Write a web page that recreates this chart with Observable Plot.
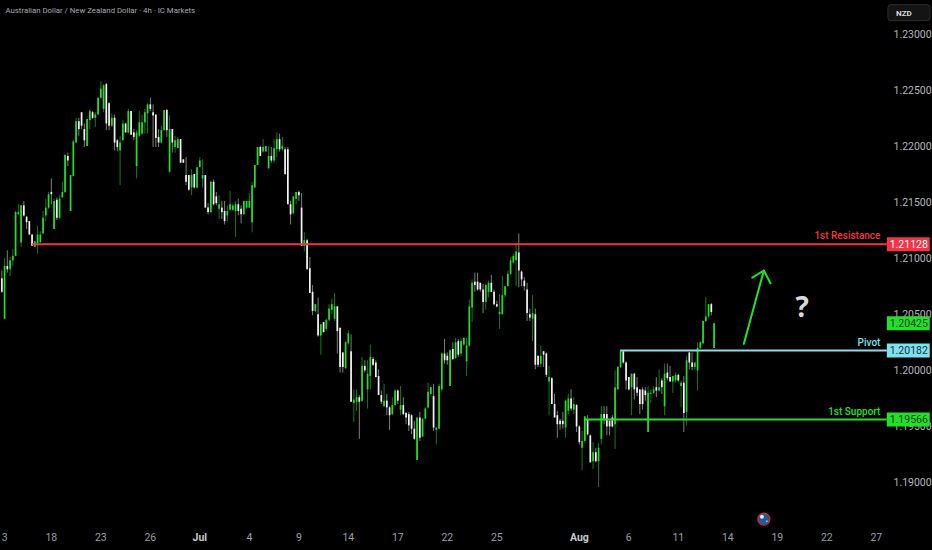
<!DOCTYPE html>
<html><head><meta charset="utf-8">
<script src="https://cdn.jsdelivr.net/npm/d3@7"></script>
<script src="https://cdn.jsdelivr.net/npm/@observablehq/plot@0.6"></script>
<style>html,body{margin:0;padding:0;background:#000;overflow:hidden}svg{display:block}</style>
</head><body><div id="chart"></div>
<script>
// each candle: [up, high, bodyTop, bodyBottom, low], prices in 1/10000
const barsJune = [
[0,12089,12082,12070,12069],[1,12100,12093,12046,12046],[0,12107,12093,12090,12087],[1,12101,12098,12090,12084],
[1,12108,12102,12098,12093],[1,12142,12141,12102,12102],[1,12148,12141,12139,12139],[1,12147,12147,12114,12110],
[0,12151,12147,12138,12137],[0,12137,12137,12132,12126],[0,12133,12133,12121,12121],[0,12121,12121,12111,12111],
[1,12115,12115,12110,12110],[1,12129,12121,12113,12104],[1,12124,12121,12114,12114],[1,12142,12136,12122,12122],
[1,12153,12145,12138,12133],[1,12159,12157,12145,12144],[0,12171,12159,12157,12148],[1,12153,12151,12126,12126],
[0,12154,12152,12136,12134],[1,12156,12153,12136,12135],[1,12168,12159,12154,12154],[1,12192,12192,12159,12158],
[0,12194,12191,12187,12182],[1,12174,12174,12142,12142],[1,12205,12204,12173,12173],[1,12225,12222,12203,12203],
[0,12225,12222,12215,12209],[0,12230,12230,12218,12215],[0,12220,12215,12205,12199],[1,12224,12224,12200,12200],
[1,12233,12231,12223,12215],[0,12231,12230,12225,12224],[1,12230,12228,12225,12217],[1,12243,12243,12228,12228],
[1,12258,12251,12243,12242],[1,12255,12254,12233,12230],[0,12256,12255,12220,12214],[0,12239,12238,12218,12214],
[1,12229,12225,12218,12217],[0,12228,12225,12203,12196],[0,12206,12205,12199,12195],[1,12209,12203,12196,12165],
[1,12223,12220,12205,12205],[0,12220,12220,12212,12212],[1,12233,12231,12212,12211],[0,12231,12231,12210,12210],
[0,12215,12212,12208,12205],[1,12214,12212,12182,12171],[1,12231,12221,12209,12208],[1,12228,12221,12211,12210],
[1,12233,12230,12221,12211],[1,12238,12237,12229,12211],[0,12243,12237,12233,12231],[0,12237,12230,12227,12199],
[0,12228,12228,12207,12199],[0,12215,12208,12203,12199],[1,12218,12214,12203,12202],[1,12232,12232,12214,12214],
[0,12233,12232,12214,12208],[1,12227,12215,12177,12176],[0,12215,12215,12203,12194],[1,12209,12205,12199,12194],
[1,12208,12206,12198,12198],[0,12206,12206,12185,12185],[0,12188,12188,12185,12185],[0,12190,12174,12168,12165],
[0,12174,12174,12161,12160],[1,12179,12174,12163,12156],[0,12175,12175,12163,12162],[1,12181,12181,12163,12162]
];
const barsJulyEarly = [
[1,12190,12187,12181,12181],[1,12188,12174,12171,12163],[0,12174,12174,12145,12145],[0,12149,12145,12141,12139],
[1,12169,12168,12141,12140],[0,12170,12168,12148,12147],[0,12159,12155,12149,12147],[1,12156,12148,12144,12135],
[0,12151,12145,12141,12135],[0,12151,12142,12133,12130],[1,12147,12142,12138,12133],[1,12160,12148,12143,12142],
[1,12148,12147,12143,12142],[1,12151,12148,12142,12119],[0,12153,12148,12142,12138],[0,12147,12144,12139,12131],
[1,12151,12151,12139,12139],[1,12151,12151,12145,12144],[1,12158,12151,12145,12145],[1,12168,12165,12132,12123],
[1,12183,12183,12163,12163],[1,12199,12199,12183,12183],[0,12200,12199,12191,12191],[1,12206,12199,12195,12194],
[1,12200,12200,12195,12195],[1,12200,12191,12180,12180],[0,12199,12191,12187,12185],[1,12206,12198,12187,12185],
[1,12212,12206,12197,12190],[0,12211,12206,12197,12195],[1,12208,12200,12197,12196],[0,12199,12197,12175,12174],
[0,12199,12197,12148,12148],[0,12151,12148,12139,12130],[1,12155,12155,12140,12139],[1,12159,12159,12153,12148],
[0,12160,12159,12156,12151],[0,12158,12145,12111,12111],[1,12123,12116,12111,12106],[0,12117,12116,12090,12090],
[0,12101,12091,12069,12069],[0,12076,12070,12053,12049],[1,12059,12059,12053,12052],[0,12065,12050,12031,12030],
[1,12041,12041,12031,12014],[0,12043,12043,12034,12034],[1,12046,12045,12037,12035],[1,12059,12055,12045,12044],
[1,12064,12059,12054,12050],[1,12069,12057,12046,12044],[0,12057,12057,12035,12015],[0,12038,12038,12003,11998],
[0,12016,12016,12003,11998],[1,12026,12025,12002,12001],[1,12036,12033,12024,12023],[0,12032,12017,11972,11972],
[1,11983,11974,11971,11954],[1,11983,11976,11972,11964],[0,11978,11976,11972,11939],[1,12012,12004,11973,11972],
[0,12009,12004,12000,11998],[1,12009,11997,11983,11966],[1,12023,12012,11995,11983],[0,12012,12010,12005,12004],
[0,12009,12007,11994,11994],[0,12001,11995,11978,11978],[0,11982,11978,11972,11970],[1,11988,11973,11968,11967]
];
const barsJulyLate = [
[0,11979,11973,11967,11960],[0,11968,11967,11960,11947],[1,11976,11969,11961,11960],[1,11983,11982,11969,11969],
[0,11983,11982,11973,11970],[1,11986,11969,11965,11960],[0,11976,11969,11961,11960],[0,11963,11962,11958,11952],
[0,11963,11961,11951,11946],[0,11961,11960,11948,11943],[0,11955,11948,11939,11938],[1,11958,11958,11920,11920],
[0,11963,11958,11940,11937],[1,11957,11957,11941,11941],[1,11967,11966,11957,11957],[1,11989,11981,11967,11966],
[1,11985,11985,11979,11979],[0,11988,11977,11949,11946],[1,11949,11949,11947,11934],[1,11988,11986,11948,11948],
[1,12016,12015,11983,11981],[0,12028,12015,12009,12006],[0,12016,12013,12009,12005],[1,12019,12018,11986,11986],
[0,12025,12019,12010,12009],[1,12029,12025,12011,12010],[0,12028,12026,12014,12012],[1,12029,12026,12015,12013],
[1,12029,12029,12023,12022],[1,12029,12022,12008,11995],[1,12063,12057,12022,12021],[1,12081,12078,12056,12043],
[0,12087,12079,12076,12070],[0,12087,12079,12072,12071],[0,12078,12078,12072,12070],[0,12077,12072,12061,12051],
[1,12077,12076,12061,12054],[1,12080,12078,12070,12065],[0,12085,12078,12070,12070],[0,12072,12070,12059,12058],
[0,12062,12059,12057,12056],[1,12068,12052,12050,12037],[1,12084,12067,12050,12050],[1,12075,12075,12067,12065],
[1,12089,12086,12075,12075],[1,12101,12098,12086,12085],[1,12104,12102,12096,12095],[1,12114,12106,12098,12075],
[0,12122,12105,12089,12074],[0,12089,12088,12081,12075],[0,12083,12080,12075,12071],[0,12078,12072,12051,12044],
[0,12055,12050,12047,12044],[1,12067,12051,12046,12026],[0,12055,12050,12005,12001],[0,12013,12013,12005,12003],
[1,12022,12013,12006,12003],[0,12017,12017,12014,12003],[0,12016,12015,11996,11994],[1,12004,11994,11990,11960],
[0,11994,11993,11970,11970],[0,11979,11970,11958,11958],[0,11964,11960,11952,11940],[0,11957,11955,11952,11947],
[0,11963,11955,11952,11948],[1,11974,11973,11949,11940],[1,11979,11975,11964,11961],[0,11983,11975,11966,11964],
[1,11976,11970,11965,11961],[0,11970,11969,11950,11945]
];
const barsAug = [
[0,11951,11950,11936,11934],[1,11946,11937,11931,11911],[1,11959,11959,11937,11935],[0,11960,11956,11943,11942],
[0,11943,11942,11918,11918],[1,11936,11927,11919,11912],[0,11931,11927,11919,11918],[1,11935,11931,11919,11896],
[1,11968,11961,11939,11934],[0,11968,11961,11957,11952],[0,11968,11961,11950,11942],[0,11957,11955,11950,11942],
[0,11960,11958,11950,11949],[1,12000,11985,11952,11930],[1,12004,12003,11983,11983],[1,12018,12017,12003,12002],
[0,12018,12017,12007,12006],[0,12008,12007,11991,11983],[0,11994,11994,11983,11982],[1,11997,11997,11985,11960],
[0,11998,11997,11983,11974],[0,11994,11985,11980,11977],[0,11983,11983,11970,11961],[0,11985,11983,11970,11965],
[0,11985,11982,11978,11973],[1,11986,11980,11945,11945],[1,11983,11980,11979,11971],[1,11986,11983,11980,11979],
[0,11994,11985,11982,11976],[1,12001,11985,11982,11981],[0,11993,11991,11985,11979],[1,12006,11997,11968,11960],
[0,12006,11998,11993,11991],[0,12004,11994,11990,11990],[1,11995,11995,11990,11980],[1,11998,11996,11991,11989],
[0,11997,11996,11991,11990],[1,11991,11989,11986,11967],[0,11995,11989,11962,11945],[1,12013,12009,11963,11951],
[0,12016,12016,12007,12001],[0,12016,12007,12003,12000],[1,12007,12007,12003,12000],[1,12025,12020,12000,11982],
[1,12026,12025,12020,12019],[1,12044,12044,12024,12024],[1,12065,12048,12044,12043],[1,12059,12059,12048,12047],
[0,12060,12059,12052,12049],[1,12042,12042,12020,12020]
];
const priceTicks = [1.19,1.195,1.2,1.205,1.21,1.215,1.22,1.225,1.23];
const dayTickBars = [1,18,36,54,90,108,126,144,162,180,228,246,264,282,300,318];
const dayTickLabels = ["3","18","23","26","4","9","14","17","22","25","6","11","14","19","22","27"];
const monthTickBars = [72,210];
const monthTickLabels = ["Jul","Aug"];
const levelNames = ["1st Resistance","Pivot","1st Support"];
const levelPrices = [1.21128,1.20182,1.19566];
const levelStartBars = [11.2,225,212];
const levelColors = ["#f23645","#7fe0ef","#22e02a"];
const levelTextColors = ["#ffffff","#12353a","#0b3d0b"];
const lastPrice = 1.20425;
const title = "Australian Dollar / New Zealand Dollar · 4h · IC Markets";
const arrowShaftBars = [269.8,277.1], arrowShaftPrices = [1.2024,1.20894];
const arrowHeadBars = [272.9,277.1,279.5], arrowHeadPrices = [1.2083,1.20894,1.2078];

const bars = [...barsJune,...barsJulyEarly,...barsJulyLate,...barsAug].map((r,i)=>({i,up:!!r[0],high:r[1]/1e4,top:r[2]/1e4,bottom:r[3]/1e4,low:r[4]/1e4}));
const GREEN="#22e02a", font="Roboto, sans-serif";
const boxStart=322, boxEnd=337.6;
const levels = levelNames.map((name,k)=>({name,price:levelPrices[k],start:levelStartBars[k],color:levelColors[k],tc:levelTextColors[k]}));
const fmt = d3.format(".5f");

const chart = Plot.plot({
  width:932,height:550,marginLeft:0,marginTop:0,marginRight:46,marginBottom:24,
  style:{background:"#000",color:"#b2b5be",fontFamily:font,fontSize:"10px"},
  x:{type:"linear",domain:[-0.4836,321.7]},
  y:{type:"linear",domain:[1.18613,1.233]},
  marks:[
    Plot.axisY({anchor:"right",ticks:priceTicks,tickSize:0,tickPadding:7,tickFormat:fmt,label:null,fontSize:10.5,fill:"#b2b5be"}),
    Plot.axisX({anchor:"bottom",ticks:dayTickBars,tickSize:0,tickPadding:7,tickFormat:d=>dayTickLabels[dayTickBars.indexOf(d)],label:null,fontSize:10.5,fill:"#9a9ea8"}),
    Plot.axisX({anchor:"bottom",ticks:monthTickBars,tickSize:0,tickPadding:7,tickFormat:d=>monthTickLabels[monthTickBars.indexOf(d)],label:null,fontSize:10.5,fontWeight:"bold",fill:"#c8cad0"}),
    Plot.ruleX(bars,{x:"i",y1:"low",y2:"high",strokeWidth:1,stroke:d=>d.up?"#127a18":"#7d7d7d"}),
    Plot.ruleX(bars,{x:"i",y1:"bottom",y2:"top",strokeWidth:1.7,stroke:d=>d.up?GREEN:"#f4f4f4"}),
    Plot.ruleY(levels,{y:"price",x1:"start",x2:boxStart,stroke:"color",strokeWidth:2}),
    Plot.text(levels,{y:"price",x:boxStart-2.5,text:"name",fill:"color",textAnchor:"end",dy:-8,fontSize:10,fontWeight:500,letterSpacing:0.2}),
    Plot.ruleY([lastPrice],{x1:boxStart,x2:boxEnd,stroke:GREEN,strokeWidth:14}),
    Plot.text([lastPrice],{y:d=>d,x:boxStart+7.8,text:fmt,fill:"#0b3d0b",fontSize:10.5}),
    Plot.ruleY(levels,{y:"price",x1:boxStart,x2:boxEnd,stroke:"color",strokeWidth:14}),
    Plot.text(levels,{y:"price",x:boxStart+7.8,text:d=>fmt(d.price),fill:"tc",fontSize:10.5}),
    Plot.line(arrowShaftBars,{x:d=>d,y:(d,k)=>arrowShaftPrices[k],stroke:GREEN,strokeWidth:2}),
    Plot.line(arrowHeadBars,{x:d=>d,y:(d,k)=>arrowHeadPrices[k],stroke:GREEN,strokeWidth:2}),
    Plot.text(["?"],{x:[291],y:[1.2056],text:d=>d,fill:"#d8d8d8",fontSize:28,fontWeight:"bold",fontFamily:"Open Sans, sans-serif"}),
    Plot.dot([277.1],{x:d=>d,y:[1.18679],r:6,fill:"#1b5c9e",stroke:"#d3233b",strokeWidth:1.3}),
    Plot.dot([276.4],{x:d=>d,y:[1.1870],r:2,fill:"#e8e8f0"}),
    Plot.dot([278.2],{x:d=>d,y:[1.1866],r:0.8,fill:"#e8e8f0"}),
    Plot.rect([0],{x1:322.4,x2:337.7,y1:[1.23258],y2:[1.23116],fill:"#141414",stroke:"#2e2e2e",rx:3}),
    Plot.text(["NZD"],{x:[328],y:[1.23187],text:d=>d,fill:"#d8d8d8",fontSize:8,fontWeight:"bold"}),
    Plot.text([title],{frameAnchor:"top-left",dx:5,dy:6.5,text:d=>d,fill:"#a6a9b2",fontSize:7.8})
  ]
});
document.getElementById("chart").append(chart);
</script></body></html>
